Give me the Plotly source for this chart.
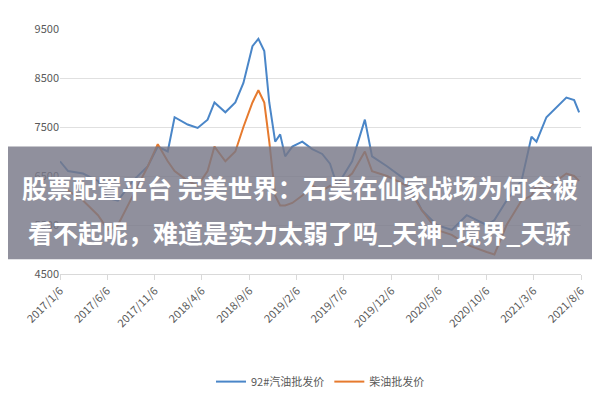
import plotly.graph_objects as go

dates = ["2017-01-06","2017-02-01","2017-03-21","2017-05-08","2017-06-09","2017-07-11","2017-08-28","2017-10-15",
"2017-11-16","2017-12-18","2018-01-09","2018-02-20","2018-03-24","2018-04-25","2018-05-17","2018-06-21","2018-07-23",
"2018-08-18","2018-09-16","2018-10-05","2018-10-24","2018-11-09","2018-11-28","2018-12-14","2018-12-30","2019-01-22",
"2019-02-23","2019-03-27","2019-04-28","2019-05-23","2019-06-15","2019-08-02","2019-09-12","2019-10-05","2019-11-22",
"2020-01-25","2020-03-13","2020-04-30","2020-06-17","2020-08-04","2020-10-07","2020-11-01","2020-12-10","2021-01-27",
"2021-02-28","2021-03-16","2021-04-17","2021-05-19","2021-06-20","2021-07-15","2021-07-31"]
gasoline = [6800,6600,6550,6400,6050,6000,6400,6700,7100,7000,7700,7550,7480,7650,8000,7800,8000,8400,9150,9300,9050,
8000,7200,7350,6900,7100,7200,7050,6950,6750,6300,6800,7650,6900,6700,6400,5800,5500,5400,5700,5500,5600,6000,6400,
7300,7200,7700,7900,8100,8050,7800]
diesel = [6350,6200,6000,5700,5400,5500,6100,6700,7150,6800,6600,6400,6300,6600,7100,6800,7000,7500,8000,8250,8000,
7200,6100,5900,5900,5950,6100,6300,6200,6300,6300,6550,7000,6600,6500,6300,5800,5400,5300,5100,4950,4900,5500,6000,
6100,6300,6200,6400,6550,6500,6400]
tick_vals = ["2017-01-06","2017-06-06","2017-11-06","2018-04-06","2018-09-06","2019-02-06","2019-07-06","2019-12-06",
"2020-05-06","2020-10-06","2021-03-06","2021-08-06"]
tick_text = ["2017/1/6","2017/6/6","2017/11/6","2018/4/6","2018/9/6","2019/2/6","2019/7/6","2019/12/6",
"2020/5/6","2020/10/6","2021/3/6","2021/8/6"]
title_lines = ["股票配置平台 完美世界：石昊在仙家战场为何会被", "看不起呢，难道是实力太弱了吗_天神_境界_天骄"]

fig = go.Figure()
fig.add_trace(go.Scatter(x=dates, y=gasoline, mode="lines", name="92#汽油批发价", line=dict(color="#4a86c8", width=2)))
fig.add_trace(go.Scatter(x=dates, y=diesel, mode="lines", name="柴油批发价", line=dict(color="#e67a2e", width=2)))

fig.update_layout(
    width=600, height=400, margin=dict(l=52, r=27, t=18, b=127),
    paper_bgcolor="white", plot_bgcolor="white",
    font=dict(family="Noto Sans CJK SC", color="#595959", size=11),
    showlegend=True,
    legend=dict(orientation="h", x=0.5, xanchor="center", y=-0.38, yanchor="top", font=dict(size=11)),
    xaxis=dict(tickvals=tick_vals, ticktext=tick_text, tickangle=-45, range=["2017-01-06","2021-08-06"],
               showgrid=False, showline=True, linecolor="#d9d9d9", ticks="outside", tickcolor="#d9d9d9", ticklen=5),
    yaxis=dict(range=[4500, 9500], dtick=1000, tick0=4500, gridcolor="#e0e0e0", zeroline=False),
)
fig.add_shape(type="rect", xref="paper", yref="paper", x0=-0.11, x1=1.06, y0=0.06, y1=0.52,
              fillcolor="rgba(120,120,135,0.82)", line=dict(width=0), layer="above")
for i, t in enumerate(title_lines):
    fig.add_annotation(text="<b>" + t + "</b>", xref="paper", yref="paper", x=0.46, y=[0.355, 0.17][i],
                       yanchor="middle", xanchor="center", showarrow=False,
                       font=dict(size=25, color="white", family="Noto Sans CJK SC"))
fig.write_html("out.html")
